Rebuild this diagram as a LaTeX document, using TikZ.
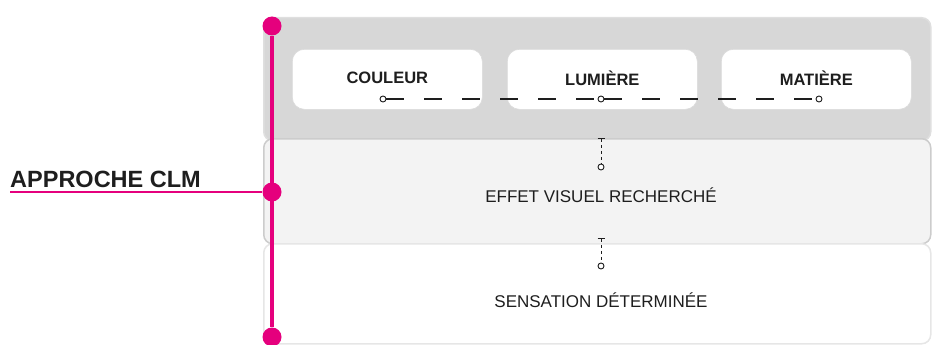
\documentclass[tikz,border=0pt]{standalone}
\usepackage{fontspec}
\setmainfont{Liberation Sans}
\usetikzlibrary{arrows.meta,calc,positioning}
\definecolor{clmpink}{HTML}{E5007D}
\definecolor{topgray}{HTML}{D7D7D7}
\definecolor{midgray}{HTML}{F3F3F3}
\definecolor{edgegray}{HTML}{CCCCCC}
\definecolor{txtgray}{HTML}{1E1E1E}

\begin{document}
\begin{tikzpicture}[%
x=1pt, y=-1pt,
panel/.style={rounded corners=9pt, inner sep=0pt, anchor=north west,
  minimum width=667pt, line width=1.5pt},
box/.style={draw=edgegray!70, fill=white, rounded corners=12pt,
  minimum width=190pt, minimum height=60pt, anchor=north west, line width=0.6pt},
boxlabel/.style={font=\fontsize{16.5}{18}\selectfont\bfseries, text=txtgray},
rowlabel/.style={font=\fontsize{17}{19}\selectfont, text=txtgray},
pinkdot/.style={circle, fill=clmpink, inner sep=0pt, minimum size=19pt},
smallring/.style={circle, draw=txtgray, fill=white, line width=0.9pt,
  inner sep=0pt, minimum size=6pt},
dashlink/.style={draw=txtgray, line width=1.2pt, dash pattern=on 18pt off 20pt},
tlink/.style={draw=txtgray, line width=0.9pt, dash pattern=on 3pt off 3pt,
  {Bar[width=7pt,line width=1pt]}-}
]
\useasboundingbox (0,0) rectangle (932,345);

% panels
\node[panel, fill=topgray, draw=topgray!80, minimum height=123pt] (top) at (263,17) {};
\node[panel, fill=midgray, draw=edgegray, minimum height=105pt] (mid) at (263,138) {};
\node[panel, fill=white, draw=edgegray!50, minimum height=100pt] (bot) at (263,243) {};

% boxes
\node[box] (couleur) at (292,49) {};
\node[box] (lumiere) at (507,49) {};
\node[box] (matiere) at (721,49) {};
\node[boxlabel] at ($(couleur.center)+(0,-1)$) {COULEUR};
\node[boxlabel] at ($(lumiere.center)+(0,-1)$) {LUMIÈRE};
\node[boxlabel] at ($(matiere.center)+(0,-1)$) {MATIÈRE};

% dashed link through the three boxes
\node[smallring] (r1) at (383,99) {};
\node[smallring] (r2) at (601,99) {};
\node[smallring] (r3) at (819,99) {};
\path[dashlink] (r1) -- (r2);
\path[dashlink] (r2) -- (r3);

% vertical links
\coordinate (t1) at (601,138);
\coordinate (t2) at (601,238);
\node[smallring] (v1) at (601,167) {};
\node[smallring] (v2) at (601,266) {};
\path[tlink] (t1) -- (v1);
\path[tlink] (t2) -- (v2);

% row labels
\node[rowlabel] (effet) at (601,195) {EFFET VISUEL RECHERCHÉ};
\node[rowlabel] (sensation) at (601,300) {SENSATION DÉTERMINÉE};

% pink axis
\node[pinkdot] (d1) at (272,26) {};
\node[pinkdot] (d2) at (272,192) {};
\node[pinkdot] (d3) at (272,337) {};
\path[draw=clmpink, line width=4pt] (d1) -- (d3);
\node[anchor=base west, inner sep=0pt, text=txtgray,
  font=\fontsize{23.5}{25}\selectfont\bfseries] (clm) at (10,187) {APPROCHE CLM};
\coordinate (lstart) at (10,192);
\path[draw=clmpink, line width=1.6pt] (lstart) -- (d2);

\end{tikzpicture}
\end{document}
